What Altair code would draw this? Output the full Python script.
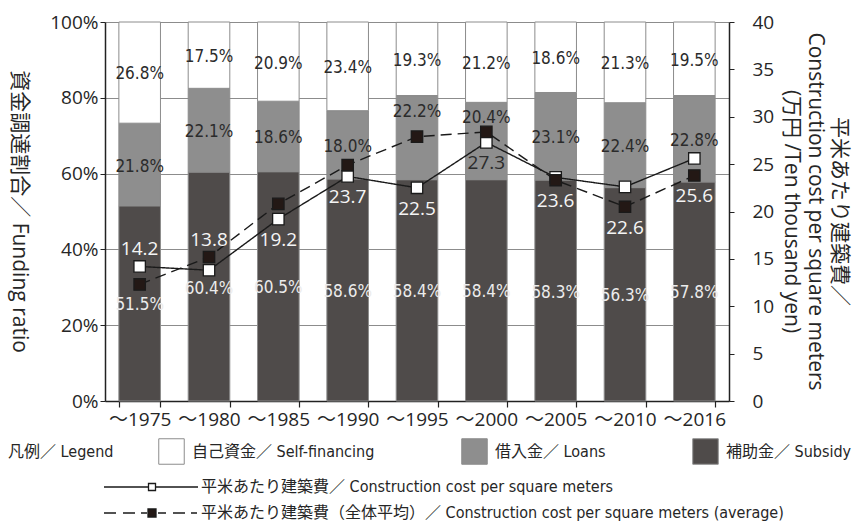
import altair as alt
import pandas as pd

# Five-year periods on the x axis
periods = ["～1975", "～1980", "～1985", "～1990", "～1995", "～2000", "～2005", "～2010", "～2016"]

# Funding ratio (%) by source
subsidy = [51.5, 60.4, 60.5, 58.6, 58.4, 58.4, 58.3, 56.3, 57.8]
loans = [21.8, 22.1, 18.6, 18.0, 22.2, 20.4, 23.1, 22.4, 22.8]
self_financing = [26.8, 17.5, 20.9, 23.4, 19.3, 21.2, 18.6, 21.3, 19.5]

# Construction cost per square meter (10,000 yen)
cost = [14.2, 13.8, 19.2, 23.7, 22.5, 27.3, 23.6, 22.6, 25.6]
cost_avg = [12.3, 15.2, 20.8, 24.9, 27.9, 28.4, 23.3, 20.5, 23.8]

segment_names = ["自己資金／ Self-financing", "借入金／ Loans", "補助金／ Subsidy"]
series_names = [
    "平米あたり建築費／ Construction cost per square meters",
    "平米あたり建築費（全体平均）／ Construction cost per square meters (average)",
]
# periods whose cost label sits above the markers
labels_above = ["～1975", "～1980"]
# periods whose loans label is pushed to the top of its segment
loans_label_top = ["～1995", "～2000"]

AX_FONT = "Open Sans, Noto Sans CJK JP, sans-serif"
NARROW = "Liberation Sans Narrow, DejaVu Sans Condensed, Noto Sans CJK JP, sans-serif"
TXT = "#262626"
GRID = "#8c8c8c"

# stacked segments, subsidy at the bottom
rows = []
for i, p in enumerate(periods):
    base = 0.0
    for rank, (name, vals) in enumerate([(segment_names[2], subsidy),
                                         (segment_names[1], loans),
                                         (segment_names[0], self_financing)]):
        v = vals[i]
        rows.append(dict(period=p, segment=name, value=v, rank=rank,
                         lower=base, upper=base + v, mid=base + v / 2,
                         label=f"{v:.1f}%"))
        base += v
bars_df = pd.DataFrame(rows)

cost_df = pd.DataFrame({
    "period": periods * 2,
    "idx": list(range(len(periods))) * 2,
    "series": [series_names[0]] * len(periods) + [series_names[1]] * len(periods),
    "cost": cost + cost_avg,
})
label_df = pd.DataFrame({"period": periods, "cost": cost, "avg": cost_avg})


def in_list(values):
    return "indexof([" + ",".join(f"'{v}'" for v in values) + "], datum.period) >= 0"


x_enc = alt.X(
    "period:N", sort=periods, title=None,
    scale=alt.Scale(paddingInner=0.4, paddingOuter=0.2),
    axis=alt.Axis(tickBand="extent", labelAngle=0, labelFont=AX_FONT, labelFontSize=19,
                  labelColor=TXT, labelPadding=3, tickSize=6, tickColor="#222",
                  tickWidth=1.2, domainColor="#222", domainWidth=1.5,
                  labelOverlap=False, grid=False),
)

pct_scale = alt.Scale(domain=[0, 100], nice=False, clamp=True)
pct_axis = alt.Axis(
    values=list(range(0, 101, 10)), labelExpr="datum.value + '%'",
    labelFont=AX_FONT, labelFontSize=19, labelColor=TXT, labelPadding=2,
    tickSize=5, tickColor="#222", domainColor="#222", domainWidth=1.5,
    grid=True, gridColor=GRID, gridWidth=1,
    title="資金調達割合／ Funding ratio", titleFont=AX_FONT, titleFontSize=21,
    titleFontWeight="normal", titleColor=TXT, titleAngle=90, titleAlign="center",
    titleBaseline="bottom", titleX=-97, titleY=189,
)

cost_scale = alt.Scale(domain=[0, 40], nice=False)
cost_axis = alt.Axis(
    orient="right", values=list(range(0, 41, 5)),
    labelFont=AX_FONT, labelFontSize=19, labelColor=TXT, labelPadding=18,
    labelAlign="left",
    tickSize=5, tickColor="#222", domainColor="#222", domainWidth=1.5, grid=False,
    title=["平米あたり建築費／", "Construction cost per square meters", "(万円 /Ten thousand yen)"],
    titleFont=AX_FONT, titleFontSize=21, titleFontWeight="normal", titleColor=TXT,
    titleAngle=90, titleAlign="center", titleBaseline="bottom", titleLineHeight=24,
    titleX=99, titleY=189,
)

bar_legend = alt.Legend(
    orient="none", legendX=-97, legendY=416, direction="horizontal",
    title="凡例／ Legend", titleOrient="left", titleFont=NARROW, titleFontSize=16,
    titleFontWeight="normal", titleColor=TXT, titlePadding=44,
    titleAnchor="middle", titleBaseline="middle",
    labelFont=NARROW, labelFontSize=16, labelColor=TXT, labelLimit=400, labelOffset=7,
    symbolType="square", symbolSize=650, symbolStrokeColor=GRID, symbolStrokeWidth=1,
    symbolOpacity=1, columnPadding=84, gridAlign="none", padding=0,
)

bars = alt.Chart(bars_df).mark_bar(stroke=GRID, strokeWidth=1).encode(
    x=x_enc,
    y=alt.Y("lower:Q", scale=pct_scale, axis=pct_axis),
    y2="upper:Q",
    fill=alt.Fill("segment:N", scale=alt.Scale(domain=segment_names,
                                               range=["#ffffff", "#8e8e8e", "#4f4b4a"]),
                  legend=bar_legend),
)

pct_color = alt.condition(alt.datum.rank == 0, alt.value("#ececec"), alt.value("#2b2b2b"))
pct_base = alt.Chart(bars_df)
top_test = "datum.rank === 1 && " + in_list(loans_label_top)

pct_text = pct_base.transform_filter("!(" + top_test + ")").mark_text(
    font=NARROW, fontSize=17, baseline="middle", align="center", dy=2
).encode(
    x=x_enc, y=alt.Y("mid:Q", scale=pct_scale), text="label:N", color=pct_color,
)

pct_text_top = pct_base.transform_filter(top_test).mark_text(
    font=NARROW, fontSize=17, baseline="middle", align="center", dy=16, color="#2b2b2b"
).encode(
    x=x_enc, y=alt.Y("upper:Q", scale=pct_scale), text="label:N",
)

funding = alt.layer(bars, pct_text, pct_text_top)

lines = alt.Chart(cost_df).mark_line(color="#1a1a1a", strokeWidth=1.4).encode(
    x=x_enc,
    y=alt.Y("cost:Q", scale=cost_scale, axis=cost_axis),
    order="idx:Q",
    strokeDash=alt.StrokeDash("series:N",
                              scale=alt.Scale(domain=series_names, range=[[1, 0], [11, 6]]),
                              legend=None),
)

# legend glyphs: a short line (solid or dashed) with a small square marker
SOLID_GLYPH = "M-3.5,-3.5H3.5V3.5H-3.5Z M-48,0H-3.5 M3.5,0H46"
DASHED_GLYPH = ("M-4,-4H4V4H-4Z M-48,0H-36 M-29,0H-17 M-11,0H-5 "
                "M6,0H14 M21,0H33 M39,0H45")

common_leg = dict(
    orient="none", direction="vertical", title=None, symbolSize=4,
    symbolStrokeColor="#1a1a1a", symbolStrokeWidth=1.3, symbolOpacity=1,
    labelFont=NARROW, labelFontSize=16, labelColor=TXT, labelLimit=800, labelOffset=41,
    padding=0,
)


def series_points(k, fill_color, legend_y, glyph):
    return alt.Chart(cost_df).transform_filter(
        alt.datum.series == series_names[k]
    ).mark_square(size=130, stroke="#1a1a1a", strokeWidth=1.3, opacity=1).encode(
        x=x_enc,
        y=alt.Y("cost:Q", scale=cost_scale),
        fill=alt.Fill("series:N",
                      scale=alt.Scale(domain=[series_names[k]], range=[fill_color]),
                      legend=alt.Legend(legendX=39, legendY=legend_y, symbolType=glyph,
                                        **common_leg)),
    )


solid_points = series_points(0, "#ffffff", 457, SOLID_GLYPH)
avg_points = series_points(1, "#231815", 483, DASHED_GLYPH)

label_base = alt.Chart(label_df).transform_calculate(
    hi="max(datum.cost, datum.avg)", lo="min(datum.cost, datum.avg)"
)

labels_up = label_base.transform_filter(in_list(labels_above)).mark_text(
    font=AX_FONT, fontSize=19, baseline="middle", align="center", dy=-17, color="#f5f5f5"
).encode(
    x=x_enc,
    y=alt.Y("hi:Q", scale=cost_scale),
    text=alt.Text("cost:Q", format=".1f"),
)

labels_down = label_base.transform_filter("!(" + in_list(labels_above) + ")").mark_text(
    font=AX_FONT, fontSize=19, baseline="middle", align="center", dy=21
).encode(
    x=x_enc,
    y=alt.Y("lo:Q", scale=cost_scale),
    text=alt.Text("cost:Q", format=".1f"),
    color=alt.condition(alt.datum.period == "～2000", alt.value("#2b2b2b"), alt.value("#f5f5f5")),
)

costs = alt.layer(lines, solid_points, avg_points, labels_up, labels_down).resolve_scale(
    fill="independent"
)

chart = alt.layer(funding, costs).resolve_scale(
    y="independent", fill="independent"
).properties(
    width=624, height=379,
    padding={"left": 105, "top": 22, "right": 125, "bottom": 120},
    autosize=alt.AutoSizeParams(type="none"),
    background="white",
).configure_view(stroke=None)

chart.save("out.html", embed_options={"renderer": "svg", "actions": False})
